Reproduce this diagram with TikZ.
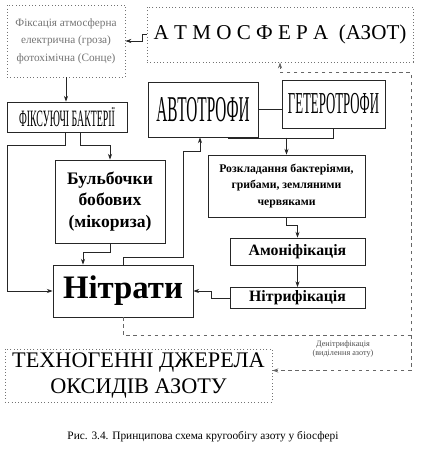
\documentclass[tikz,border=0pt]{standalone}
\usepackage{fontspec}
\setmainfont{Liberation Serif}
\newfontfamily\narrowfont[FakeStretch=0.42]{Liberation Serif}
\usetikzlibrary{arrows.meta}

\begin{document}
\begin{tikzpicture}[x=0.03cm, y=-0.03cm,
  box/.style={draw=black!85, line width=0.6pt, inner sep=0pt, align=center},
  dotbox/.style={draw=black!55, dotted, line width=0.8pt, inner sep=0pt, align=center},
  arr/.style={-{Stealth[length=5pt,width=3.5pt]}, line width=0.6pt, black!85},
  dashln/.style={dash pattern=on 3pt off 3pt, line width=0.6pt, black!60}]
  \useasboundingbox (0,0) rectangle (422,451);
  % Джерела азоту
  \node[dotbox, minimum width=3.54cm, minimum height=2.16cm, text=black!55,
    font=\fontsize{9.6}{15}\selectfont] (fix) at (66,41)
    {Фіксація атмосферна\\електрична (гроза)\\фотохімічна (Сонце)};
  \node[dotbox, minimum width=7.98cm, minimum height=1.65cm,
    font=\fontsize{18}{20}\selectfont] (atm) at (280,34.5)
    {А\ Т\ М\ О\ С\ Ф\ Е\ Р\ А\ \ (АЗОТ)};
  % Організми
  \node[box, minimum width=3.6cm, minimum height=0.9cm,
    font=\narrowfont\fontsize{20}{22}\selectfont] (fixb) at (67,117) {ФІКСУЮЧІ БАКТЕРІЇ};
  \node[box, minimum width=3.3cm, minimum height=1.65cm,
    font=\narrowfont\fontsize{31}{32}\selectfont] (auto) at (203,109.5) {АВТОТРОФИ};
  \node[box, minimum width=3.09cm, minimum height=1.44cm,
    font=\narrowfont\fontsize{26}{28}\selectfont] (hetero) at (333.5,104) {ГЕТЕРОТРОФИ};
  \node[box, minimum width=3.3cm, minimum height=2.49cm,
    font=\bfseries\fontsize{15}{18}\selectfont] (bulb) at (110,201.5)
    {Бульбочки\\бобових\\(мікориза)};
  % Перетворення
  \node[box, minimum width=4.71cm, minimum height=1.86cm,
    font=\bfseries\fontsize{10}{14}\selectfont] (decomp) at (286.5,186)
    {Розкладання бактеріями,\\грибами, земляними\\червяками};
  \node[box, minimum width=4.05cm, minimum height=0.81cm,
    font=\bfseries\fontsize{13.5}{15}\selectfont] (amon) at (297.5,251.5) {Амоніфікація};
  \node[box, minimum width=4.05cm, minimum height=0.63cm,
    font=\bfseries\fontsize{13.5}{15}\selectfont] (nitrif) at (297.5,298) {Нітрифікація};
  \node[box, minimum width=4.2cm, minimum height=1.56cm,
    font=\bfseries\fontsize{28}{30}\selectfont] (nitr) at (123,291) {Нітрати};
  \node[dotbox, minimum width=8.01cm, minimum height=1.59cm,
    font=\fontsize{19}{22}\selectfont] (tech) at (138.5,375.5)
    {ТЕХНОГЕННІ ДЖЕРЕЛА\\ОКСИДІВ АЗОТУ};
  \node[font=\fontsize{7}{8}\selectfont, text=black!70, align=center] (denit) at (343,349)
    {Денітрифікація\\(виділення азоту)};
  \node[font=\fontsize{9.7}{12}\selectfont] (cap) at (203,437)
    {Рис. 3.4. Принципова схема кругообігу азоту у біосфері};
  % Стрілки
  \draw[arr] (fix.south) -- (fix.south |- fixb.north);
  \draw[arr] (atm.west) -- ++(-4,0) |- (fix.east);
  \draw[arr] ([xshift=-0.06cm]fixb.south) -- ++(0,13) -| ([xshift=-1.35cm]nitr.west) -- (nitr.west);
  \draw[arr] ([xshift=0.39cm]fixb.south) -- ++(0,13) -| (bulb.north);
  \draw[arr] (bulb.south) -- ++(0,9) -| ([xshift=-1.2cm]nitr.north);
  \draw[arr] (nitr.north) -- ++(0,-7) -- ++(60,0) -- ++(0,-106) -| ([xshift=-0.09cm]auto.south);
  \draw[black!85, line width=0.6pt] (auto.east) -- (auto.east -| hetero.west);
  \draw[black!85, line width=0.6pt] (hetero.south) |- ([xshift=0.75cm,yshift=-0.03cm]auto.south);
  \draw[arr] ([yshift=0.51cm]decomp.north) -- (decomp.north);
  \draw[arr] (decomp.south) -- ++(0,8) -| (amon.north);
  \draw[arr] (amon.south) -- (nitrif.north);
  \draw[arr] (nitrif.west) -- ++(-18,0) |- (nitr.east);
  % Денітрифікація
  \coordinate (dn) at (411,335);
  \draw[arr, dashln] (nitr.south) |- (dn) |- ([yshift=-0.3cm]atm.south) -- (atm.south);
  \draw[arr, dashln] (dn) |- ([yshift=0.15cm]tech.east);
\end{tikzpicture}
\end{document}
